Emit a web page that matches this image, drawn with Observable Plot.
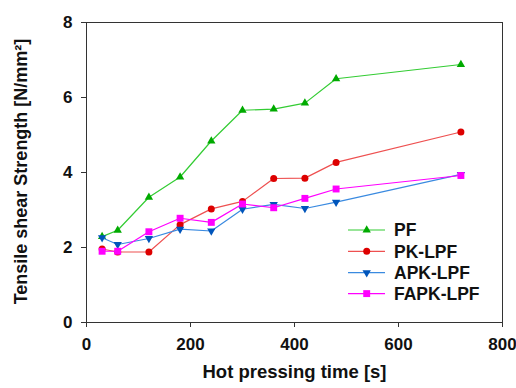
<!DOCTYPE html>
<html>
<head>
<meta charset="utf-8">
<script src="https://cdn.jsdelivr.net/npm/d3@7"></script>
<script src="https://cdn.jsdelivr.net/npm/@observablehq/plot@0.6"></script>
<style>
  body { margin: 0; background: #fff; }
  svg { font-family: "Liberation Sans", Arial, sans-serif; }
</style>
</head>
<body>
<div id="chart"></div>
<script>
const times = [30, 60, 120, 180, 240, 300, 360, 420, 480, 720];
const seriesNames = ["PF", "PK-LPF", "APK-LPF", "FAPK-LPF"];
const pf      = [2.29, 2.46, 3.34, 3.88, 4.84, 5.66, 5.69, 5.85, 6.50, 6.88];
const pkLpf   = [1.96, 1.88, 1.88, 2.61, 3.03, 3.23, 3.84, 3.85, 4.27, 5.08];
const apkLpf  = [2.26, 2.08, 2.24, 2.49, 2.44, 3.02, 3.15, 3.04, 3.21, 3.95];
const fapkLpf = [1.90, 1.90, 2.42, 2.78, 2.67, 3.16, 3.06, 3.31, 3.56, 3.92];
const xTicks = [0, 200, 400, 600, 800];
const yTicks = [0, 2, 4, 6, 8];

const valuesBySeries = [pf, pkLpf, apkLpf, fapkLpf];
const styles = [
  {line: "#33cc33", mark: "#00aa00", symbol: "triangle", rotate: 0, r: 3.1},
  {line: "#ee5050", mark: "#dd0000", symbol: "circle", rotate: 0, r: 3.5},
  {line: "#3a8ae0", mark: "#0055bb", symbol: "triangle", rotate: 180, r: 3.1},
  {line: "#ff00ff", mark: "#ff00ff", symbol: "square", rotate: 0, r: 3.9}
];

const font = "'Liberation Sans', Arial, sans-serif";

const marks = [Plot.frame({stroke: "#333", strokeWidth: 1})];
seriesNames.forEach((name, i) => {
  const data = times.map((t, j) => ({t, v: valuesBySeries[i][j]}));
  const s = styles[i];
  marks.push(Plot.line(data, {x: "t", y: "v", stroke: s.line, strokeWidth: 1.2}));
  marks.push(Plot.dot(data, {x: "t", y: "v", fill: s.mark, stroke: "none", symbol: s.symbol, r: s.r, rotate: s.rotate}));
});

// legend drawn as a custom render mark
marks.push((index, scales, values, dims) => {
  const g = d3.create("svg:g");
  const x0 = 348, x1 = 385, xm = 366.7, xt = 394;
  const ys = [230, 251.3, 272.7, 293.6];
  seriesNames.forEach((name, i) => {
    const s = styles[i];
    const y = ys[i];
    g.append("line").attr("x1", x0).attr("x2", x1).attr("y1", y).attr("y2", y)
      .attr("stroke", s.line).attr("stroke-width", 1.2);
    const sym = {triangle: d3.symbolTriangle, circle: d3.symbolCircle, square: d3.symbolSquare}[s.symbol];
    const size = Math.PI * s.r * s.r;
    g.append("path").attr("d", d3.symbol(sym, size)())
      .attr("transform", `translate(${xm},${y}) rotate(${s.rotate})`)
      .attr("fill", s.mark);
    g.append("text").attr("x", xt).attr("y", y).attr("dy", "0.36em")
      .attr("text-anchor", "start")
      .attr("font-size", 17.5).attr("font-weight", "bold").attr("fill", "#111")
      .attr("font-family", font).text(name);
  });
  return g.node();
});

marks.push(Plot.axisX({ticks: xTicks, tickSize: 5, tickPadding: 10, fontSize: 17, fontWeight: "bold", label: null, stroke: "#333"}));
marks.push(Plot.axisY({ticks: yTicks, tickSize: 5, tickPadding: 9, fontSize: 17, fontWeight: "bold", label: null, stroke: "#333"}));
marks.push(Plot.text(["Hot pressing time [s]"], {frameAnchor: "bottom", dy: 55, fontSize: 18.5, fontWeight: "bold", fill: "#111"}));
marks.push(Plot.text(["Tensile shear Strength [N/mm²]"], {frameAnchor: "left", textAnchor: "middle", dx: -65, dy: -1, rotate: -90, fontSize: 18, fontWeight: "bold", fill: "#111"}));

const chart = Plot.plot({
  width: 516,
  height: 388,
  marginLeft: 86,
  marginRight: 14,
  marginTop: 22,
  marginBottom: 66,
  style: {fontFamily: font, color: "#111", background: "#fff", overflow: "visible"},
  x: {domain: [0, 800]},
  y: {domain: [0, 8]},
  marks
});
document.getElementById("chart").appendChild(chart);
</script>
</body>
</html>
